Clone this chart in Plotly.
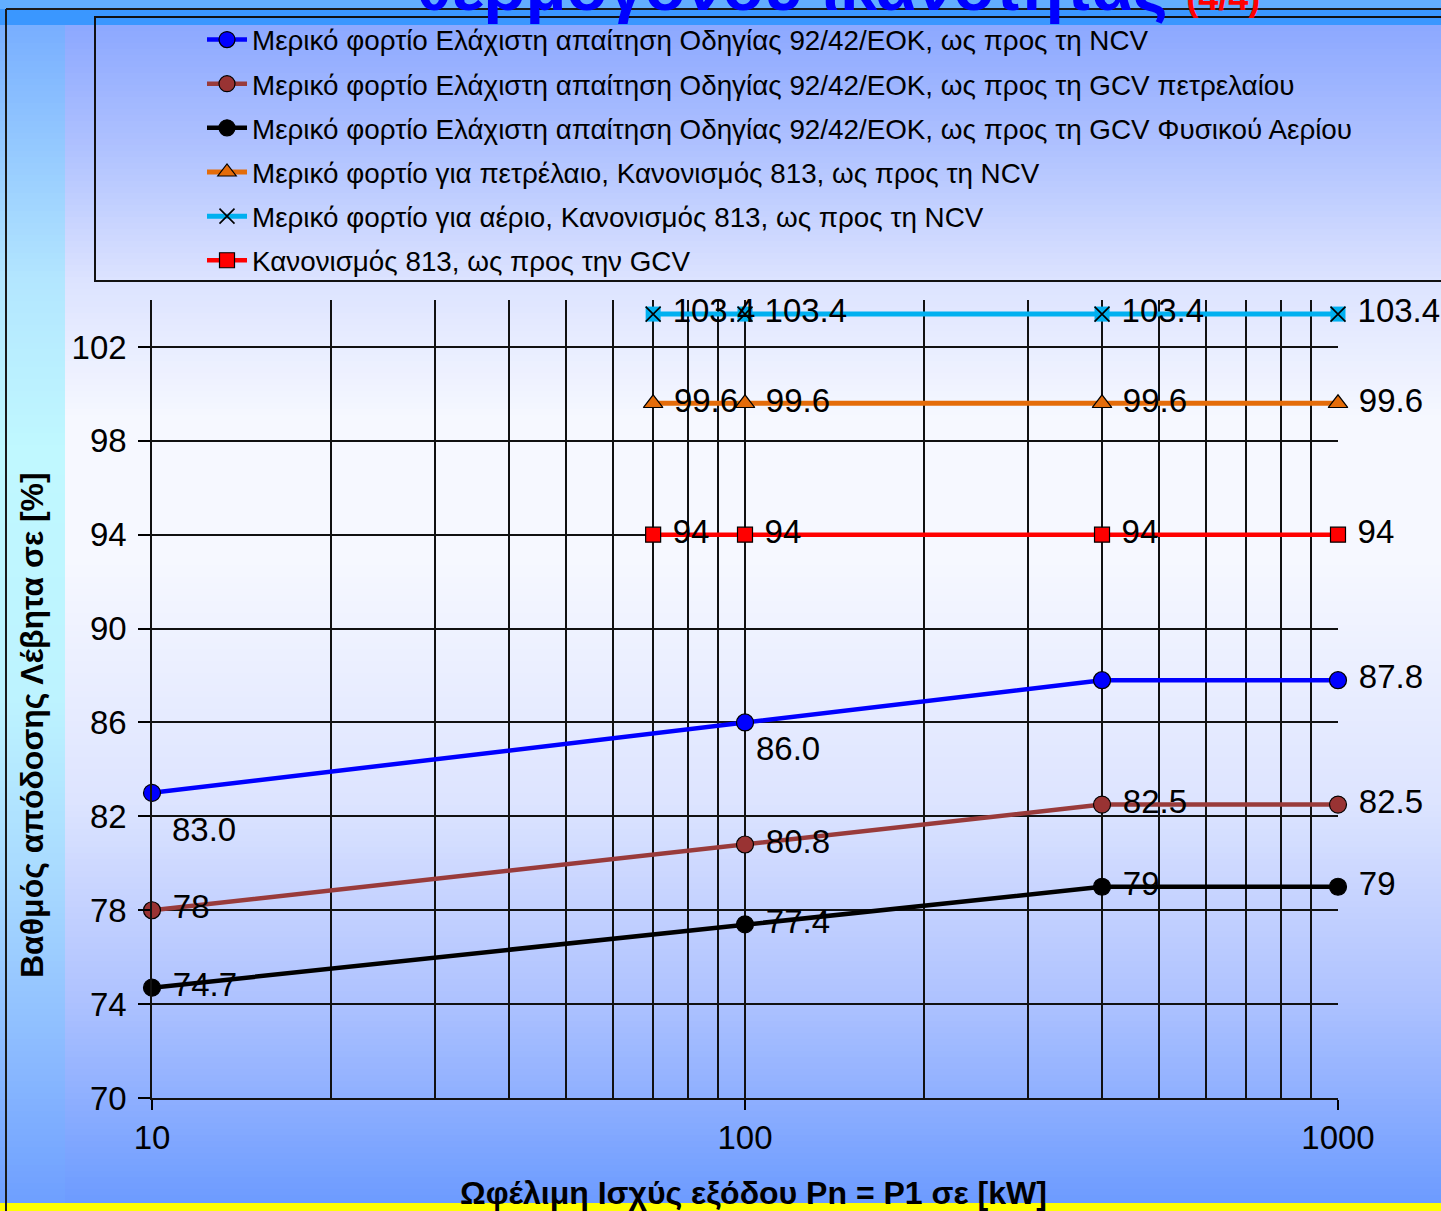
import plotly.graph_objects as go
import numpy as np

# ---------------- data ----------------
x_ncv = [10, 100, 400, 1000]
y_ncv = [83.0, 86.0, 87.8, 87.8]
t_ncv = ["83.0", "86.0", "", "87.8"]

x_gcv_oil = [10, 100, 400, 1000]
y_gcv_oil = [78, 80.8, 82.5, 82.5]
t_gcv_oil = ["78", "80.8", "82.5", "82.5"]

x_gcv_gas = [10, 100, 400, 1000]
y_gcv_gas = [74.7, 77.4, 79, 79]
t_gcv_gas = ["74.7", "77.4", "79", "79"]

x_reg = [70, 100, 400, 1000]
y_oil_ncv = [99.6, 99.6, 99.6, 99.6]
t_oil_ncv = ["99.6", "99.6", "99.6", "99.6"]
y_gas_ncv = [103.4, 103.4, 103.4, 103.4]
t_gas_ncv = ["103.4", "103.4", "103.4", "103.4"]
y_reg_gcv = [94, 94, 94, 94]
t_reg_gcv = ["94", "94", "94", "94"]

names = [
    "Μερικό φορτίο Ελάχιστη απαίτηση Οδηγίας 92/42/ΕΟΚ, ως προς τη NCV",
    "Μερικό φορτίο Ελάχιστη απαίτηση Οδηγίας 92/42/ΕΟΚ, ως προς τη GCV πετρελαίου",
    "Μερικό φορτίο Ελάχιστη απαίτηση Οδηγίας 92/42/ΕΟΚ, ως προς τη GCV Φυσικού Αερίου",
    "Μερικό φορτίο για πετρέλαιο, Κανονισμός 813, ως προς τη NCV",
    "Μερικό φορτίο για αέριο, Κανονισμός 813, ως προς τη NCV",
    "Κανονισμός 813, ως προς την GCV",
]

y_ticks = [70, 74, 78, 82, 86, 90, 94, 98, 102]
x_ticks = [10, 100, 1000]
x_tick_text = ["10", "100", "1000"]
x_minor = [20, 30, 40, 50, 60, 70, 80, 90, 200, 300, 400, 500, 600, 700, 800, 900]

# ---------------- layout geometry (pixels) ----------------
W, H = 1441, 1211
L, R, T, B = 152, 1338, 300, 1098


def xp(X):
    return (X - L) / (R - L)


def yp(Y):
    return (B - Y) / (B - T)


FONT = "Liberation Sans, Arial, sans-serif"
LBL = dict(family=FONT, size=33, color="black")
NB = "\u00a0"


def pad(texts):
    return [(NB + t) if t else "" for t in texts]


fig = go.Figure()


def add(x, y, text, name, color, width, symbol, size, group, mcolor=None):
    fig.add_trace(go.Scatter(
        x=x, y=y, mode="lines+markers+text", name=name, text=pad(text),
        textposition="middle right", textfont=LBL, legendgroup=group,
        line=dict(color=color, width=width),
        marker=dict(symbol=symbol, size=size, color=mcolor or color,
                    line=dict(color="black", width=1.2)),
        cliponaxis=False,
    ))


# NCV series: its first two labels sit below-right (drawn as annotations below)
t_ncv_trace = ["", "", t_ncv[2], t_ncv[3]]
add(x_ncv, y_ncv, t_ncv_trace, names[0], "#0000FF", 4.5, "circle", 17, "g1")
add(x_gcv_oil, y_gcv_oil, t_gcv_oil, names[1], "#993B3B", 4.5, "circle", 17, "g2", mcolor="#993333")
add(x_gcv_gas, y_gcv_gas, t_gcv_gas, names[2], "#000000", 4.5, "circle", 17, "g3")
add(x_reg, y_oil_ncv, t_oil_ncv, names[3], "#E46C0A", 5, "triangle-up", 17, "g4")
# cyan square background behind the x markers
fig.add_trace(go.Scatter(
    x=x_reg, y=y_gas_ncv, mode="markers", showlegend=False, legendgroup="g5",
    marker=dict(symbol="square", size=15, color="#00B0F0", line=dict(width=0)),
    cliponaxis=False, hoverinfo="skip"))
fig.add_trace(go.Scatter(
    x=x_reg, y=y_gas_ncv, mode="lines+markers+text", name=names[4], text=pad(t_gas_ncv),
    textposition="middle right", textfont=LBL, legendgroup="g5",
    line=dict(color="#00B0F0", width=5),
    marker=dict(symbol="x-thin", size=15, color="black", line=dict(color="black", width=1.6)),
    cliponaxis=False))
add(x_reg, y_reg_gcv, t_reg_gcv, names[5], "#FF0000", 4.5, "square", 15, "g6")

# ---------------- background gradient ----------------
def hex2rgb(h):
    h = h.lstrip("#")
    return np.array([int(h[i:i + 2], 16) for i in (0, 2, 4)], dtype=float)


def interp(stops, Y):
    ys = [s[0] for s in stops]
    cs = [hex2rgb(s[1]) for s in stops]
    for i in range(len(ys) - 1):
        if ys[i] <= Y <= ys[i + 1]:
            f = (Y - ys[i]) / (ys[i + 1] - ys[i])
            c = cs[i] * (1 - f) + cs[i + 1] * f
            return "rgb(%d,%d,%d)" % tuple(c.round())
    c = cs[-1] if Y > ys[-1] else cs[0]
    return "rgb(%d,%d,%d)" % tuple(c.round())


main_stops = [(25, "#8CA8FF"), (150, "#B0C2FF"), (281, "#DCE3FF"), (420, "#F6F8FF"),
              (560, "#F6F8FF"), (800, "#DDE4FF"), (1000, "#AEC2FF"), (1203, "#6C9BFF")]
strip_stops = [(25, "#78AEFF"), (280, "#B3E6FF"), (450, "#C0F8FF"), (700, "#BDF3FF"),
               (900, "#A5D6FF"), (1050, "#8CBBFF"), (1203, "#6E9FFF")]

shapes = []
step = 6
for Y in range(25, 1203, step):
    shapes.append(dict(type="rect", xref="paper", yref="paper", layer="below",
                       x0=xp(65), x1=xp(W + 5), y0=yp(Y + step + 0.5), y1=yp(Y),
                       fillcolor=interp(main_stops, Y + step / 2), line=dict(width=0)))
    shapes.append(dict(type="rect", xref="paper", yref="paper", layer="below",
                       x0=xp(-5), x1=xp(65), y0=yp(Y + step + 0.5), y1=yp(Y),
                       fillcolor=interp(strip_stops, Y + step / 2), line=dict(width=0)))
# top bright band
shapes.append(dict(type="rect", xref="paper", yref="paper", layer="below",
                   x0=xp(-5), x1=xp(W + 5), y0=yp(25), y1=yp(-5),
                   fillcolor="#3A97FF", line=dict(width=0)))
shapes.append(dict(type="rect", xref="paper", yref="paper", layer="below",
                   x0=xp(-5), x1=xp(W + 5), y0=yp(9), y1=yp(-5),
                   fillcolor="#62AEFF", line=dict(width=0)))
# yellow bottom band
shapes.append(dict(type="rect", xref="paper", yref="paper", layer="below",
                   x0=xp(-5), x1=xp(W + 5), y0=yp(H + 5), y1=yp(1203),
                   fillcolor="#FFFF00", line=dict(width=0)))
# outer frame lines
shapes.append(dict(type="line", xref="paper", yref="paper", layer="below",
                   x0=xp(6), x1=xp(W + 5), y0=yp(9), y1=yp(9),
                   line=dict(color="#1A1A1A", width=2)))
shapes.append(dict(type="line", xref="paper", yref="paper", layer="below",
                   x0=xp(6), x1=xp(6), y0=yp(9), y1=yp(H + 5),
                   line=dict(color="#1A1A1A", width=2)))
# legend box
shapes.append(dict(type="rect", xref="paper", yref="paper", layer="below",
                   x0=xp(95), x1=xp(W + 20), y0=yp(281), y1=yp(17),
                   line=dict(color="#111111", width=2), fillcolor="rgba(0,0,0,0)"))

annotations = [
    dict(text="θερμογόνου ικανότητας <span style='color:#FF0000;font-size:36px'>(4/4)</span>",
         xref="paper", yref="paper", x=xp(838), y=yp(26), xanchor="center", yanchor="bottom",
         showarrow=False, font=dict(family=FONT, size=67, color="#0000FF", weight="bold")),
    dict(text="Βαθμός απόδοσης Λέβητα σε [%]", xref="paper", yref="paper",
         x=xp(32), y=yp(725), xanchor="center", yanchor="middle", textangle=-90,
         showarrow=False, font=dict(family=FONT, size=32, color="black", weight="bold")),
    dict(text="Ωφέλιμη Ισχύς εξόδου Pn = P1 σε [kW]", xref="paper", yref="paper",
         x=xp(753), y=yp(1193), xanchor="center", yanchor="middle",
         showarrow=False, font=dict(family=FONT, size=32, color="black", weight="bold")),
]
# below-right data labels of the NCV series
for i, (dx, dy) in zip((0, 1), ((18, -37), (9, -26))):
    annotations.append(dict(
        text=t_ncv[i], x=np.log10(x_ncv[i]), y=y_ncv[i], xref="x", yref="y",
        xanchor="left", yanchor="middle", xshift=dx, yshift=dy,
        showarrow=False, font=LBL))

fig.update_layout(
    width=W, height=H,
    margin=dict(l=L, r=W - R, t=T, b=H - B, pad=0),
    paper_bgcolor="#E8ECFF", plot_bgcolor="rgba(0,0,0,0)",
    shapes=shapes, annotations=annotations,
    showlegend=True,
    legend=dict(x=xp(202), y=yp(15), xanchor="left", yanchor="top",
                bgcolor="rgba(0,0,0,0)", borderwidth=0,
                font=dict(family=FONT, size=27.8, color="black"),
                traceorder="grouped", tracegroupgap=5, itemwidth=40),
    xaxis=dict(type="log", range=[1, 3], tickvals=x_ticks, ticktext=x_tick_text,
               ticks="outside", ticklen=10, tickcolor="black", tickwidth=1.5,
               showgrid=True, gridcolor="#111111", gridwidth=1.5,
               minor=dict(tickvals=x_minor, showgrid=True, gridcolor="#111111", gridwidth=1.5, ticks=""),
               showline=True, linecolor="#111111", linewidth=1.5, mirror=False,
               tickfont=dict(family=FONT, size=33, color="black"), zeroline=False),
    yaxis=dict(range=[70, 104], tickvals=y_ticks,
               ticks="outside", ticklen=12, tickcolor="black", tickwidth=1.5,
               ticklabelstandoff=5,
               showgrid=True, gridcolor="#111111", gridwidth=1.5,
               showline=True, linecolor="#111111", linewidth=1.5,
               tickfont=dict(family=FONT, size=33, color="black"), zeroline=False),
)

fig.write_html("out.html", config={"displayModeBar": False},
               post_script="document.body.style.margin='0';document.body.style.overflow='hidden';")
